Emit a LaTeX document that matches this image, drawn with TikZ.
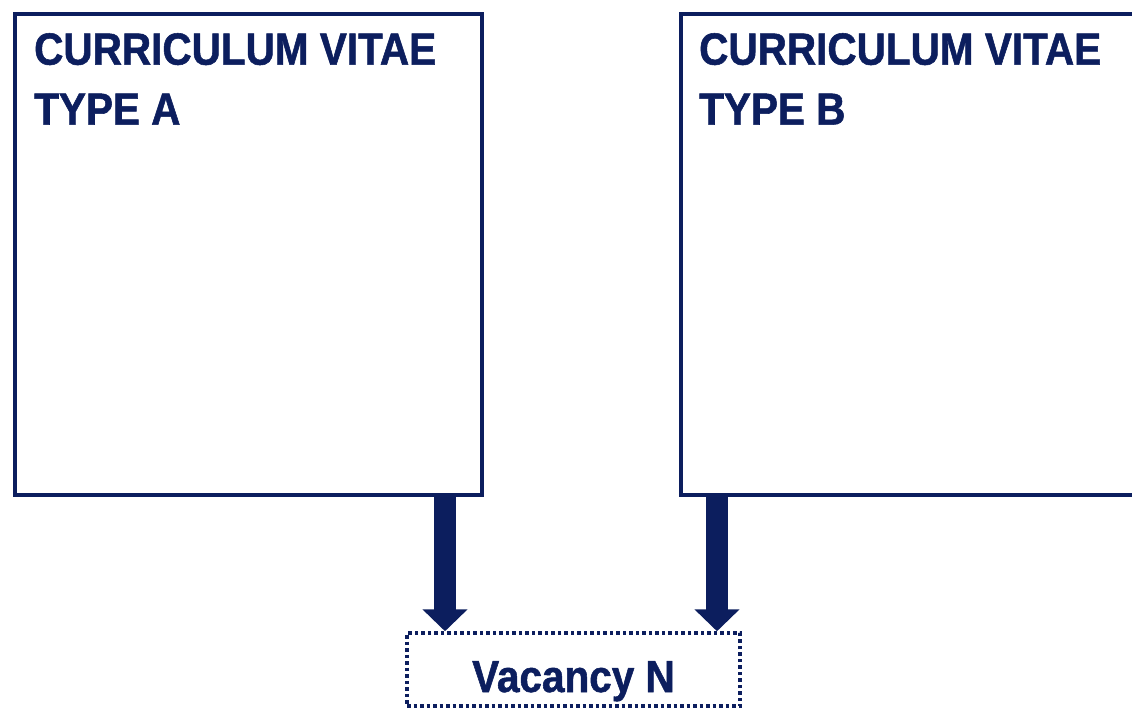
\documentclass[tikz,border=0pt]{standalone}
\usepackage{fontspec}
\setmainfont{Liberation Sans}
\newfontfamily\headfont[FakeStretch=0.9, FakeBold=1.2]{Liberation Sans Bold}
\usetikzlibrary{arrows.meta}
\definecolor{navy}{RGB}{12,30,94}
\tikzset{
  cvbox/.style={draw=navy, line width=4.5pt, fill=white, inner sep=0pt},
  cvtitle/.style={anchor=north west, inner sep=0pt, text=navy, align=left,
    font=\headfont\fontsize{45}{60}\selectfont},
  vacbox/.style={draw=navy, line width=3.5pt, dash pattern=on 3.5pt off 3pt, inner sep=0pt,
    minimum width=333pt, minimum height=73pt, text=navy,
    text height=45pt, text depth=0pt,
    font=\headfont\fontsize{45}{54}\selectfont},
  feed/.style={draw=navy, line width=22pt,
    -{Triangle[width=44pt, length=22pt]}}
}
\begin{document}
\begin{tikzpicture}[x=1pt, y=1pt]
  \useasboundingbox (0,0) rectangle (1132,710);
  \clip (0,0) rectangle (1132,710);
  % the two CV boxes (the second runs past the right edge)
  \node[cvbox, minimum width=467pt, minimum height=481pt] (cva) at (248.5,455.5) {};
  \node[cvbox, minimum width=467pt, minimum height=481pt] (cvb) at (914.5,455.5) {};
  \node[cvtitle] (ta) at (34,677) {CURRICULUM VITAE\\TYPE A};
  \node[cvtitle] (tb) at (699,677) {CURRICULUM VITAE\\TYPE B};
  % vacancy box
  \node[vacbox] (vac) at (573.5,40.5) {Vacancy N};
  % feeding arrows
  \coordinate (fa) at (445,0);
  \coordinate (fb) at (717,0);
  \draw[feed] (cva.south -| fa) -- (vac.north -| fa);
  \draw[feed] (cvb.south -| fb) -- (vac.north -| fb);
\end{tikzpicture}
\end{document}
